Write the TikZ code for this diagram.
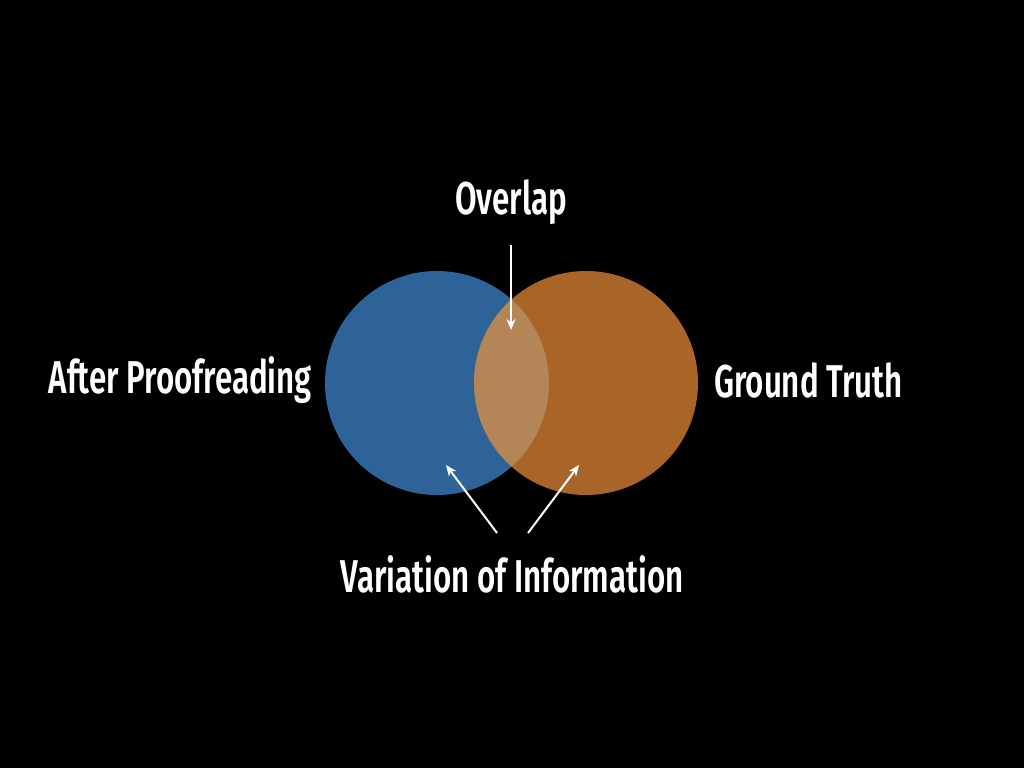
\documentclass[tikz,border=0pt]{standalone}
\usepackage{fontspec}
\setmainfont{Fira Sans}
\newfontfamily\labelfont[FakeStretch=0.68]{Fira Sans SemiBold}
\usetikzlibrary{arrows.meta}
\definecolor{setblue}{HTML}{2E6399}
\definecolor{setorange}{HTML}{A86527}
\definecolor{setboth}{HTML}{B48657}
\begin{document}
\begin{tikzpicture}[x=1pt,y=-1pt,
  label/.style={text=white,font=\labelfont\fontsize{46}{46}\selectfont,inner sep=0pt},
  pointer/.style={draw=white,line width=2pt,-{Stealth[length=11pt,width=9pt]}}]
  \fill[black] (0,0) rectangle (1024,768);
  \useasboundingbox (0,0) rectangle (1024,768);
  % the two sets and their intersection
  \fill[setblue] (437,383) circle (112);
  \fill[setorange] (586,383) circle (112);
  \begin{scope}
    \clip (437,383) circle (112);
    \fill[setboth] (586,383) circle (112);
  \end{scope}
  % labels
  \node[label] (ov) at (511,202) {Overlap};
  \node[label,anchor=east] (ap) at (312,380) {After Proofreading};
  \node[label,anchor=west] (gt) at (714,380) {Ground Truth};
  \node[label] (vi) at (512,574) {Variation of Information};
  \coordinate (ovs) at (511,245);
  \coordinate (ove) at (511,330);
  \coordinate (vl) at (497,533);
  \coordinate (vle) at (446,465);
  \coordinate (vr) at (528,533);
  \coordinate (vre) at (579,465);
  \draw[pointer] (ovs) -- (ove);
  \draw[pointer] (vl) -- (vle);
  \draw[pointer] (vr) -- (vre);
\end{tikzpicture}
\end{document}
